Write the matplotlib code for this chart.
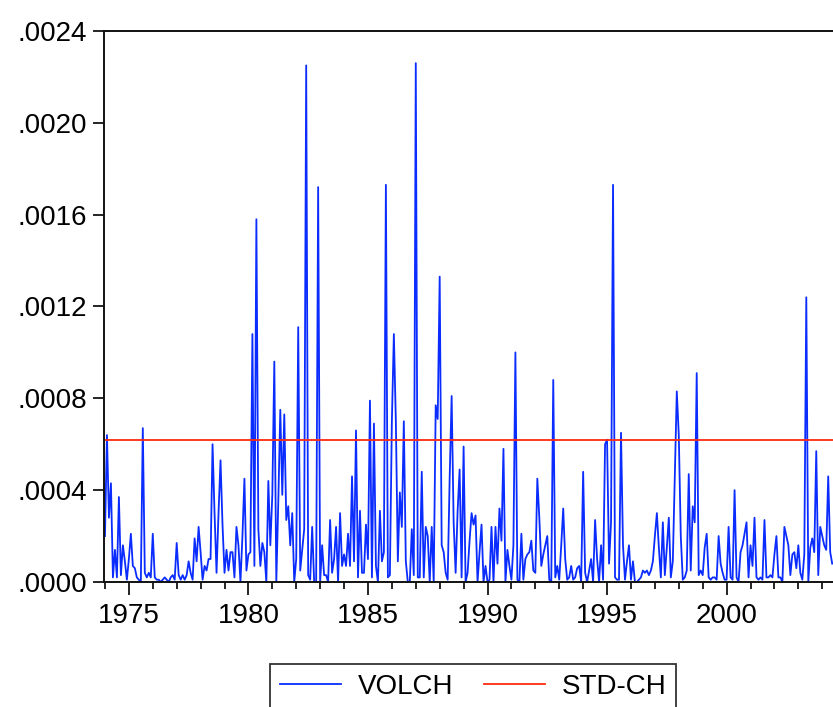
import numpy as np
import pandas as pd
import matplotlib
matplotlib.use("Agg")
import matplotlib.pyplot as plt
from matplotlib.ticker import MultipleLocator, FuncFormatter

plt.rcParams['font.family'] = ['Liberation Sans', 'DejaVu Sans']

# monthly series, 1974M01 .. 2004M06, values in units of 1e-4
start_year = 1974
volch_e4 = [
    2.0, 6.4, 2.8, 4.3, 0.2, 1.4, 0.2, 3.7, 0.3, 1.6,
    0.9, 0.1, 1.0, 2.1, 0.7, 0.6, 0.2, 0.1, 0.0, 6.7,
    0.4, 0.2, 0.4, 0.2, 2.1, 0.2, 0.1, 0.1, 0.0, 0.1,
    0.2, 0.1, 0.0, 0.2, 0.3, 0.1, 1.7, 0.3, 0.1, 0.3,
    0.1, 0.3, 0.9, 0.4, 0.1, 1.9, 0.9, 2.4, 1.3, 0.1,
    0.7, 0.5, 1.0, 1.0, 6.0, 3.0, 0.4, 3.0, 5.3, 2.5,
    0.4, 1.4, 0.5, 1.3, 1.3, 0.2, 2.4, 1.6, 0.0, 2.0,
    4.5, 0.5, 1.2, 1.3, 10.8, 0.7, 15.8, 2.3, 0.7, 1.7,
    1.3, 0.0, 4.4, 1.6, 3.8, 9.6, 0.0, 3.5, 7.5, 3.8,
    7.3, 2.7, 3.3, 1.6, 3.0, 0.0, 1.0, 11.1, 0.5, 1.4,
    2.3, 22.5, 0.3, 0.1, 2.4, 0.0, 0.0, 17.2, 0.0, 1.6,
    0.3, 0.3, 0.0, 2.7, 0.4, 1.0, 2.4, 0.0, 3.0, 0.7,
    1.2, 0.7, 2.1, 0.7, 4.6, 0.9, 6.6, 0.2, 3.1, 0.4,
    0.4, 2.5, 1.0, 7.9, 0.2, 6.9, 0.7, 0.0, 3.1, 0.9,
    1.3, 17.3, 0.2, 0.3, 7.0, 10.8, 7.0, 0.9, 3.9, 2.4,
    7.0, 0.9, 0.0, 0.0, 2.3, 0.3, 22.6, 0.2, 0.2, 4.8,
    0.2, 2.4, 2.0, 0.0, 2.4, 0.0, 7.7, 7.1, 13.3, 1.6,
    1.3, 0.4, 0.1, 4.5, 8.1, 2.6, 0.4, 3.1, 4.9, 0.2,
    5.9, 0.0, 0.4, 1.8, 3.0, 2.5, 2.9, 0.0, 1.3, 2.5,
    0.0, 0.7, 0.0, 0.1, 2.4, 0.0, 2.4, 0.8, 3.2, 1.8,
    5.8, 0.0, 1.4, 0.7, 0.1, 1.6, 10.0, 0.1, 0.0, 2.1,
    0.1, 1.0, 1.2, 1.3, 1.8, 0.5, 0.4, 4.5, 2.8, 0.7,
    1.2, 1.6, 2.0, 0.1, 0.0, 8.8, 0.2, 0.7, 0.1, 1.6,
    3.2, 1.0, 0.1, 0.2, 0.7, 0.1, 0.2, 0.6, 0.7, 0.0,
    4.8, 0.4, 0.0, 0.5, 1.0, 0.0, 2.7, 1.0, 0.0, 1.6,
    0.1, 6.0, 6.2, 0.8, 2.6, 17.3, 0.2, 0.1, 0.1, 6.5,
    1.6, 0.1, 0.9, 1.6, 0.1, 0.9, 0.0, 0.0, 0.1, 0.2,
    0.5, 0.4, 0.5, 0.3, 0.5, 0.9, 2.0, 3.0, 1.5, 0.2,
    2.6, 0.3, 1.5, 2.8, 0.2, 0.9, 4.5, 8.3, 6.4, 2.0,
    0.1, 0.2, 0.5, 4.7, 0.5, 3.3, 2.6, 9.1, 0.3, 0.5,
    0.3, 1.5, 2.1, 0.2, 0.1, 0.2, 0.2, 0.1, 2.0, 0.8,
    0.4, 0.1, 0.1, 2.4, 0.2, 0.1, 4.0, 0.2, 0.0, 1.3,
    1.6, 2.1, 2.6, 0.2, 1.6, 0.7, 2.8, 0.2, 0.1, 0.2,
    0.1, 2.7, 0.2, 0.2, 0.3, 0.2, 1.2, 2.0, 0.2, 0.2,
    0.0, 2.4, 2.0, 1.6, 0.3, 1.2, 1.3, 0.6, 1.6, 0.4,
    0.1, 1.2, 12.4, 0.0, 1.5, 1.9, 1.3, 5.7, 0.3, 2.4,
    2.0, 1.6, 1.4, 4.6, 1.3, 0.8,
]
std_ch = 0.00062

volch = np.array(volch_e4) * 1e-4
t = start_year + np.arange(len(volch)) / 12.0

fig = plt.figure(figsize=(8.33, 7.07), dpi=100)
ax = fig.add_axes([104/833, 1 - 582/707, 1 - 104/833, (582 - 31)/707])

ax.plot(t, volch, color='#0a2cff', lw=1.3, label='VOLCH')
ax.axhline(std_ch, color='#ff2a10', lw=1.3, label='STD-CH')

ax.set_xlim(1973.96, 2004.45)
ax.set_ylim(0, 0.0024)

ax.yaxis.set_major_locator(MultipleLocator(0.0004))
ax.yaxis.set_major_formatter(FuncFormatter(lambda v, p: f"{v:.4f}".lstrip('0')))
ax.xaxis.set_major_locator(MultipleLocator(5))
ax.xaxis.set_minor_locator(MultipleLocator(1))
ax.xaxis.set_major_formatter(FuncFormatter(lambda v, p: f"{int(round(v))}"))

ax.tick_params(axis='y', length=8, width=1.2, pad=4, labelsize=20, direction='out')
ax.tick_params(axis='x', which='major', length=9, width=1.2, pad=6, labelsize=20, direction='out')
ax.tick_params(axis='x', which='minor', length=5, width=1.2, direction='out')

for s in ['left', 'bottom', 'top']:
    ax.spines[s].set_linewidth(1.4)
    ax.spines[s].set_color('#111111')
ax.spines['right'].set_visible(False)

leg = fig.legend(loc='upper center', bbox_to_anchor=(473/833, 1 - 664/707), ncol=2,
                 fontsize=20, frameon=True, fancybox=False, handlelength=2.2,
                 handletextpad=0.6, columnspacing=1.1, borderpad=0.35,
                 borderaxespad=0)
leg.get_frame().set_edgecolor('black')
leg.get_frame().set_linewidth(1.3)

fig.savefig('out.png', dpi=100)
